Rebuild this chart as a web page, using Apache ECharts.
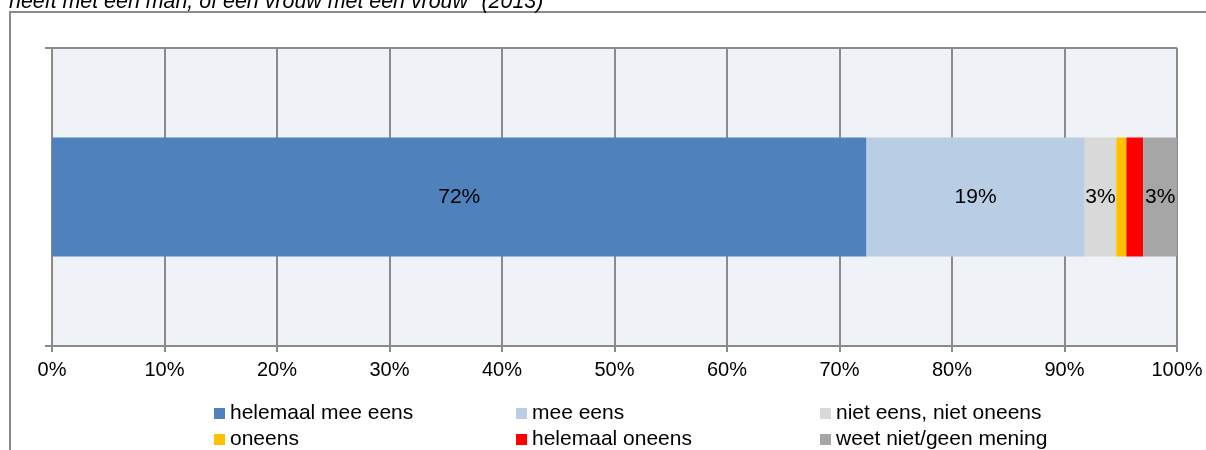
<!DOCTYPE html>
<html>
<head>
<meta charset="utf-8">
<script src="https://cdn.jsdelivr.net/npm/echarts@6/dist/echarts.min.js"></script>
<style>
html,body{margin:0;padding:0;background:#fff;}
#chart{width:1206px;height:450px;}
</style>
</head>
<body>
<div id="chart"></div>
<script>
var titleText = 'heeft met een man, of een vrouw met een vrouw" (2013)';
var categories = [''];
var seriesNames = ['helemaal mee eens', 'mee eens', 'niet eens, niet oneens', 'oneens', 'helemaal oneens', 'weet niet/geen mening'];
var seriesValues = [72.4, 19.4, 2.8, 0.9, 1.5, 3.0];
var showLabel = [true, true, true, false, false, true];
var seriesColors = ['#4F81BD', '#B9CDE5', '#D9D9D9', '#FFC000', '#FF0000', '#A6A6A6'];
var xTicks = [0, 10, 20, 30, 40, 50, 60, 70, 80, 90, 100];

var FONT = '"Liberation Sans", Arial, sans-serif';
var lineColor = '#8a8a8a';

var chart = echarts.init(document.getElementById('chart'));

var series = seriesNames.map(function (name, i) {
  return {
    name: name,
    type: 'bar',
    stack: 'total',
    barWidth: '40%',
    data: [seriesValues[i]],
    itemStyle: { color: seriesColors[i] },
    label: {
      show: showLabel[i],
      position: 'inside',
      color: '#000',
      fontFamily: FONT,
      fontSize: 21,
      formatter: function (p) { return Math.round(p.value) + '%'; }
    },
    emphasis: { disabled: true },
    silent: true
  };
});

function legendCol(left, names) {
  return {
    orient: 'vertical',
    left: left,
    top: 403,
    padding: 0,
    itemGap: 5,
    itemWidth: 11,
    itemHeight: 11,
    icon: 'rect',
    data: names,
    selectedMode: false,
    textStyle: { color: '#000', fontFamily: FONT, fontSize: 21, lineHeight: 21 }
  };
}

chart.setOption({
  animation: false,
  backgroundColor: '#fff',
  title: {
    text: titleText,
    left: 9,
    top: -9,
    padding: 0,
    textStyle: { fontFamily: FONT, fontStyle: 'italic', fontWeight: 'normal', fontSize: 21.4, color: '#000', lineHeight: 22 }
  },
  graphic: [{
    type: 'rect',
    shape: { x: 10, y: 12, width: 1300, height: 600 },
    style: { fill: 'none', stroke: lineColor, lineWidth: 2 },
    silent: true
  }],
  grid: {
    left: 52, right: 29, top: 48, bottom: 104,
    show: true, backgroundColor: '#EFF3F8', borderWidth: 0
  },
  legend: [
    legendCol(214, [seriesNames[0], seriesNames[3]]),
    legendCol(516, [seriesNames[1], seriesNames[4]]),
    legendCol(820, [seriesNames[2], seriesNames[5]])
  ],
  xAxis: {
    type: 'value',
    min: xTicks[0],
    max: xTicks[xTicks.length - 1],
    interval: xTicks[1] - xTicks[0],
    axisLine: { show: true, lineStyle: { color: lineColor, width: 2 } },
    axisTick: { show: true, length: 6, lineStyle: { color: lineColor, width: 2 } },
    splitLine: { show: true, lineStyle: { color: lineColor, width: 2 } },
    axisLabel: { color: '#000', fontFamily: FONT, fontSize: 20, margin: 14, formatter: '{value}%' }
  },
  yAxis: {
    type: 'category',
    data: categories,
    axisLine: { show: true, lineStyle: { color: lineColor, width: 2 } },
    axisTick: { show: true, length: 7, lineStyle: { color: lineColor, width: 2 } },
    splitLine: { show: true, lineStyle: { color: lineColor, width: 2 } },
    axisLabel: { show: false }
  },
  series: series
});
</script>
</body>
</html>
